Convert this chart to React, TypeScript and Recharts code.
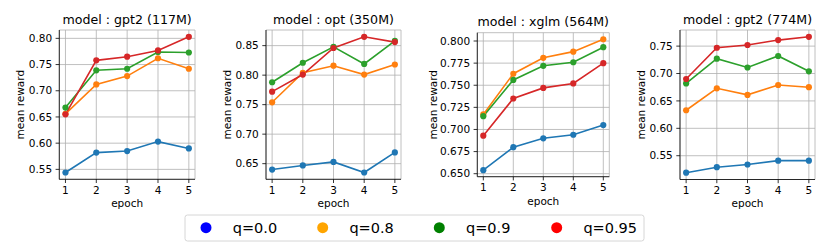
import React from 'react';
import { LineChart, Line, XAxis, YAxis, CartesianGrid } from 'recharts';

// ---------- data ----------
const epochs = [1, 2, 3, 4, 5];
const seriesKeys = ['q00', 'q08', 'q09', 'q095'];
const legendLabels = ['q=0.0', 'q=0.8', 'q=0.9', 'q=0.95'];

const gpt2_117M_q00 = [0.544, 0.582, 0.585, 0.603, 0.590];
const gpt2_117M_q08 = [0.656, 0.712, 0.728, 0.762, 0.742];
const gpt2_117M_q09 = [0.668, 0.739, 0.742, 0.774, 0.773];
const gpt2_117M_q095 = [0.655, 0.758, 0.765, 0.777, 0.803];

const opt_350M_q00 = [0.640, 0.647, 0.653, 0.635, 0.669];
const opt_350M_q08 = [0.754, 0.804, 0.816, 0.801, 0.818];
const opt_350M_q09 = [0.788, 0.821, 0.848, 0.819, 0.858];
const opt_350M_q095 = [0.772, 0.801, 0.846, 0.865, 0.856];

const xglm_564M_q00 = [0.654, 0.680, 0.690, 0.694, 0.705];
const xglm_564M_q08 = [0.717, 0.763, 0.781, 0.788, 0.802];
const xglm_564M_q09 = [0.715, 0.756, 0.772, 0.776, 0.793];
const xglm_564M_q095 = [0.693, 0.735, 0.747, 0.752, 0.775];

const gpt2_774M_q00 = [0.519, 0.529, 0.534, 0.541, 0.541];
const gpt2_774M_q08 = [0.633, 0.673, 0.661, 0.679, 0.675];
const gpt2_774M_q09 = [0.682, 0.727, 0.711, 0.732, 0.704];
const gpt2_774M_q095 = [0.690, 0.747, 0.752, 0.761, 0.767];

const panelTitles = ['model : gpt2 (117M)', 'model : opt (350M)', 'model : xglm (564M)', 'model : gpt2 (774M)'];
const yTicksGpt2_117M = [0.55, 0.60, 0.65, 0.70, 0.75, 0.80];
const yTicksOpt_350M = [0.65, 0.70, 0.75, 0.80, 0.85];
const yTicksXglm_564M = [0.650, 0.675, 0.700, 0.725, 0.750, 0.775, 0.800];
const yTicksGpt2_774M = [0.55, 0.60, 0.65, 0.70, 0.75];

const panelSeries = [
  [gpt2_117M_q00, gpt2_117M_q08, gpt2_117M_q09, gpt2_117M_q095],
  [opt_350M_q00, opt_350M_q08, opt_350M_q09, opt_350M_q095],
  [xglm_564M_q00, xglm_564M_q08, xglm_564M_q09, xglm_564M_q095],
  [gpt2_774M_q00, gpt2_774M_q08, gpt2_774M_q09, gpt2_774M_q095],
];
const panelYTicks = [yTicksGpt2_117M, yTicksOpt_350M, yTicksXglm_564M, yTicksGpt2_774M];
const panelDecimals = [2, 2, 3, 2];

// ---------- styles / layout ----------
const FONT = 'DejaVu Sans, sans-serif';
const lineColors = ['#1f77b4', '#ff7f0e', '#2ca02c', '#d62728'];
const legendColors = ['#0000ff', '#ffa500', '#008000', '#ff0000'];
const H = 248;

const layouts = [
  { slotX: 0, slotW: 205, left: 59.3, right: 195, top: 30, bottom: 179.3, yLabelX: 24 },
  { slotX: 205, slotW: 205, left: 266, right: 401, top: 30, bottom: 179.3, yLabelX: 231.5 },
  { slotX: 415, slotW: 205, left: 477.3, right: 609.3, top: 32.7, bottom: 176.7, yLabelX: 437 },
  { slotX: 620, slotW: 210, left: 680, right: 815, top: 30, bottom: 179.5, yLabelX: 645 },
];
const legendLayout = { x: 185, y: 215, w: 459, h: 26, markerX: [206, 322.7, 439.3, 556.7], textDx: 26.7 };

const tickStyle = { fill: '#000', fontSize: 10.5, fontFamily: FONT };

function Panel({ idx }: { idx: number }) {
  const lay = layouts[idx];
  const series = panelSeries[idx];
  const data = epochs.map((e, i) => {
    const row: any = { epoch: e };
    seriesKeys.forEach((k, s) => { row[k] = series[s][i]; });
    return row;
  });
  const all = series.flat();
  const mn = Math.min(...all);
  const mx = Math.max(...all);
  const pad = (mx - mn) * 0.05;
  const yAxisW = 40;
  const xAxisH = 20;
  const margin = {
    top: lay.top,
    left: lay.left - lay.slotX - yAxisW,
    right: lay.slotX + lay.slotW - lay.right,
    bottom: H - lay.bottom - xAxisH,
  };
  const dec = panelDecimals[idx];
  return (
    <div style={{ position: 'absolute', left: lay.slotX, top: 0 }}>
      <LineChart width={lay.slotW} height={H} data={data} margin={margin}>
        <CartesianGrid stroke="#b0b0b0" strokeWidth={0.8} />
        <XAxis
          dataKey="epoch"
          type="number"
          domain={[0.8, 5.2]}
          ticks={epochs}
          interval={0}
          allowDataOverflow
          height={xAxisH}
          tickSize={3.7}
          tickMargin={3.5}
          stroke="#000"
          strokeWidth={0.8}
          tick={tickStyle}
        />
        <YAxis
          type="number"
          domain={[mn - pad, mx + pad]}
          ticks={panelYTicks[idx]}
          interval={0}
          allowDataOverflow
          width={yAxisW}
          tickSize={3.7}
          tickMargin={3.5}
          stroke="#000"
          strokeWidth={0.8}
          tick={tickStyle}
          tickFormatter={(v: number) => v.toFixed(dec)}
        />
        <XAxis xAxisId="top" orientation="top" height={0} tick={false} tickLine={false} stroke="#000" strokeWidth={0.8} dataKey="epoch" type="number" domain={[0.8, 5.2]} />
        <YAxis yAxisId="right" orientation="right" width={0} tick={false} tickLine={false} stroke="#000" strokeWidth={0.8} />
        {seriesKeys.map((k, s) => (
          <Line
            key={k}
            type="linear"
            dataKey={k}
            stroke={lineColors[s]}
            strokeWidth={1.6}
            dot={{ r: 3.1, fill: lineColors[s], stroke: lineColors[s], strokeWidth: 0 }}
            activeDot={false}
            isAnimationActive={false}
          />
        ))}
      </LineChart>
    </div>
  );
}

export default function App() {
  return (
    <div style={{ position: 'absolute', left: 0, top: 0, width: 830, height: H, background: '#fff', fontFamily: FONT }}>
      {layouts.map((_, i) => <Panel key={i} idx={i} />)}
      <svg width={830} height={H} style={{ position: 'absolute', left: 0, top: 0, pointerEvents: 'none' }}>
        {layouts.map((lay, i) => {
          const cx = (lay.left + lay.right) / 2;
          const cy = (lay.top + lay.bottom) / 2;
          return (
            <g key={i} fontFamily={FONT} fill="#000">
              <text x={cx} y={lay.top - 6.5} fontSize={12.6} textAnchor="middle">{panelTitles[i]}</text>
              <text x={cx} y={lay.bottom + 27.8} fontSize={10.5} textAnchor="middle">epoch</text>
              <text x={lay.yLabelX} y={cy} fontSize={10.5} textAnchor="middle" transform={`rotate(-90 ${lay.yLabelX} ${cy})`}>mean reward</text>
            </g>
          );
        })}
        <rect x={legendLayout.x} y={legendLayout.y} width={legendLayout.w} height={legendLayout.h} rx={2.5} fill="#fff" fillOpacity={0.8} stroke="#cccccc" strokeWidth={0.8} />
        {legendLabels.map((lbl, i) => (
          <g key={lbl}>
            <circle cx={legendLayout.markerX[i]} cy={legendLayout.y + 12.7} r={5.5} fill={legendColors[i]} />
            <text x={legendLayout.markerX[i] + legendLayout.textDx} y={legendLayout.y + 18} fontSize={14.5} fontFamily={FONT} fill="#000">{lbl}</text>
          </g>
        ))}
      </svg>
    </div>
  );
}
